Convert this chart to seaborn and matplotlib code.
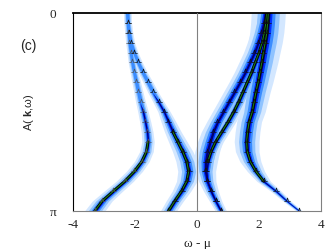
import numpy as np
import matplotlib
matplotlib.use("Agg")
import matplotlib.pyplot as plt
from matplotlib.path import Path
import seaborn as sns

# k rows (fraction of pi), 0 at top, pi at bottom
k_frac = [0.00, 0.05, 0.10, 0.15, 0.20, 0.25, 0.30, 0.35, 0.40, 0.45, 0.50,
          0.55, 0.60, 0.65, 0.70, 0.75, 0.80, 0.85, 0.90, 0.95, 1.00]

# band positions omega - mu read at each k row
band_A = [-2.25, -2.24, -2.21, -2.18, -2.14, -2.09, -2.03, -1.96, -1.89, -1.82, -1.74,
          -1.67, -1.61, -1.58, -1.63, -1.78, -2.02, -2.33, -2.70, -3.06, -3.30]
band_B = [-2.25, -2.23, -2.19, -2.13, -2.03, -1.90, -1.75, -1.58, -1.42, -1.24, -1.06,
          -0.92, -0.78, -0.62, -0.46, -0.33, -0.27, -0.33, -0.50, -0.72, -0.92]
band_C1 = [2.20, 2.15, 2.07, 1.97, 1.85, 1.70, 1.55, 1.38, 1.20, 1.02, 0.84,
           0.66, 0.52, 0.42, 0.33, 0.28, 0.27, 0.33, 0.45, 0.60, 0.77]
band_C1b = [2.25, 2.22, 2.17, 2.10, 2.00, 1.88, 1.76, 1.62, 1.48, 1.34, 1.18,
            1.00, 0.80, 0.60, 0.45, 0.35, 0.30, 0.33, 0.45, 0.60, 0.77]
band_C2 = [2.30, 2.28, 2.25, 2.20, 2.14, 2.09, 2.03, 1.97, 1.90, 1.84, 1.78,
           1.68, 1.63, 1.60, 1.62, 1.72, 1.90, 2.15, 2.55, 2.90, 3.30]

# broadening (half width) of each band at each k row
gam_A = [0.12, 0.12, 0.12, 0.12, 0.12, 0.13, 0.13, 0.14, 0.15, 0.16, 0.17,
         0.18, 0.19, 0.20, 0.22, 0.24, 0.26, 0.28, 0.30, 0.32, 0.33]
gam_B = [0.12, 0.12, 0.12, 0.12, 0.13, 0.14, 0.15, 0.16, 0.17, 0.18, 0.20,
         0.24, 0.27, 0.30, 0.33, 0.35, 0.35, 0.33, 0.30, 0.28, 0.26]
gam_C1 = [0.35, 0.35, 0.35, 0.35, 0.35, 0.35, 0.35, 0.35, 0.35, 0.35, 0.35,
          0.35, 0.38, 0.40, 0.40, 0.38, 0.33, 0.28, 0.24, 0.20, 0.18]
gam_C1b = [0.25, 0.25, 0.25, 0.25, 0.25, 0.25, 0.25, 0.25, 0.25, 0.25, 0.25,
           0.25, 0.25, 0.25, 0.25, 0.25, 0.22, 0.20, 0.18, 0.16, 0.15]
gam_C2 = [0.55, 0.55, 0.55, 0.55, 0.54, 0.52, 0.50, 0.48, 0.46, 0.44, 0.42,
          0.40, 0.40, 0.40, 0.38, 0.34, 0.28, 0.22, 0.17, 0.13, 0.10]

xticks = [-4, -2, 0, 2, 4]

sns.set_style("white")
plt.rcParams['font.family'] = ['Liberation Serif', 'DejaVu Serif']
plt.rcParams['mathtext.fontset'] = 'custom'
plt.rcParams['mathtext.bf'] = 'Liberation Sans:bold'

k = np.array(k_frac) * np.pi
bands = [
    # omega, gamma, strong-from, green range
    (band_A, gam_A, 0.55, (0.65, 1.0)),
    (band_B, gam_B, 0.50, (0.60, 1.0)),
    (band_C1, gam_C1, 0.0, None),
    (band_C1b, gam_C1b, 0.0, (0.0, 0.75)),
    (band_C2, gam_C2, 0.0, (0.0, 0.85)),
]

fig = plt.figure(figsize=(3.32, 2.49), dpi=100)
ax = fig.add_axes([73 / 332, 1 - 211 / 249, 248 / 332, 198 / 249])

kf = np.array(k_frac)
layers = [(1.0, '#d3e7ff', False), (0.65, '#8fc3ff', False), (0.40, '#3a8cff', False),
          (0.22, '#0030ff', True), (0.10, '#000070', True)]
for frac, col, strong_only in layers:
    for om, gam, s0, _ in bands:
        om = np.array(om); g = np.array(gam) * frac
        if strong_only:
            where = kf >= s0 - 0.05
        else:
            where = None
        ax.fill_betweenx(k, om - g, om + g, where=where, color=col, lw=0, interpolate=True)

# dark core and green line
for om, gam, s0, grng in bands:
    om = np.array(om)
    if grng is None:
        continue
    m = (kf >= grng[0]) & (kf <= grng[1])
    sns.lineplot(x=om[m], y=k[m], sort=False, estimator=None, color='black', lw=2.0, ax=ax)
    sns.lineplot(x=om[m], y=k[m], sort=False, estimator=None, color='#1a7a1a', lw=0.8, ax=ax)

# little EDC peaks at each k row
wedge = Path([(-1, 0), (-0.35, 0), (0, 1.1), (0.35, 0), (1, 0)],
             [Path.MOVETO, Path.LINETO, Path.LINETO, Path.LINETO, Path.LINETO])
for i, (om, gam, s0, grng) in enumerate(bands):
    col = '#555555' if i == 0 else '#111111'
    ax.plot(om, k, ls='none', marker=wedge, ms=5, mfc='none', mec=col, mew=0.5)

ax.axvline(0, color='#808080', lw=0.8, zorder=5)

ax.set_xlim(-4, 4)
ax.set_ylim(np.pi, 0)
ax.set_xticks(xticks)
ax.set_xticklabels([str(v) for v in xticks], fontsize=9.5)
ax.set_yticks([0, np.pi])
ax.set_yticklabels(['0', 'π'], fontsize=9.5)
ax.tick_params(length=0)
ax.tick_params(axis='x', pad=6)
ax.tick_params(axis='y', pad=12)
ax.set_xlabel('ω - μ', fontsize=9.5, labelpad=5)
ax.set_ylabel('')

for side in ['left', 'right', 'top', 'bottom']:
    ax.spines[side].set_visible(True)
ax.spines['top'].set_color('black'); ax.spines['top'].set_linewidth(1.3)
ax.spines['left'].set_color('black'); ax.spines['left'].set_linewidth(0.8)
ax.spines['bottom'].set_color('#808080'); ax.spines['bottom'].set_linewidth(0.8)
ax.spines['right'].set_color('#808080'); ax.spines['right'].set_linewidth(0.8)

fig.text(28 / 332, 1 - 46 / 249, '(c)', family='Liberation Sans', fontsize=10,
         ha='center', va='center')
fig.text(29 / 332, 1 - 112 / 249, r'A( $\mathbf{k}$,ω)', family='Liberation Sans',
         fontsize=8, rotation=90, ha='center', va='center')

fig.savefig('out.png', dpi=100)
